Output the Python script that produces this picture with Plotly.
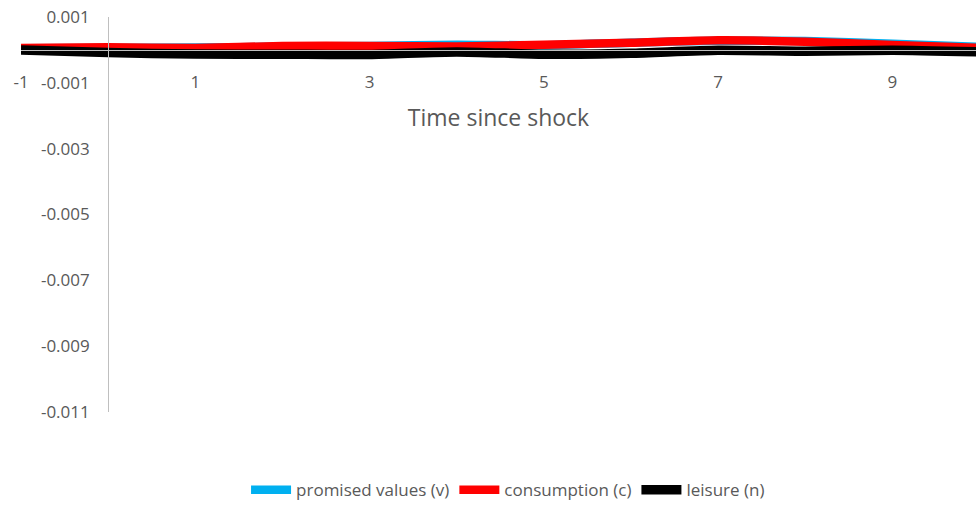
import plotly.graph_objects as go

time = [-1, 0, 1, 2, 3, 4, 5, 6, 7, 8, 9, 10]
promised_values = [0.00005, 0.00006, 0.00007, 0.00010, 0.00012, 0.00016, 0.00014, 0.00022, 0.00028, 0.00027, 0.00019, 0.00009]
consumption = [0.00006, 0.00008, 0.00006, 0.00012, 0.00012, 0.00010, 0.00016, 0.00022, 0.00029, 0.00025, 0.00015, 0.00006]
leisure = [0.0, -0.00008, -0.000125, -0.00013, -0.00014, -0.00006, -0.00013, -0.0001, -0.00001, -0.00004, -0.00001, -0.00006]

series_names = ["promised values (v)", "consumption (c)", "leisure (n)"]
series_colors = ["#00B0F0", "#FF0000", "#000000"]
series_widths = [8.5, 8.5, 9.5]

x_tickvals = [-1, 1, 3, 5, 7, 9]
x_ticktext = ["-1", "1", "3", "5", "7", "9"]
y_tickvals = [0.001, -0.001, -0.003, -0.005, -0.007, -0.009, -0.011]
y_ticktext = ["0.001", "-0.001", "-0.003", "-0.005", "-0.007", "-0.009", "-0.011"]

FONT = "Open Sans"
GREY = "#595959"

fig = go.Figure()
for name, ys, col, w in zip(series_names, [promised_values, consumption, leisure], series_colors, series_widths):
    fig.add_trace(go.Scatter(x=time, y=ys, mode="lines", name=name,
                             line=dict(color=col, width=w, shape="spline", smoothing=0.6)))

xmin, xmax = -1, 9.96
ymin, ymax = -0.011, 0.001

fig.update_layout(
    width=976, height=510,
    margin=dict(l=20.5, r=0, t=17, b=98),
    paper_bgcolor="white", plot_bgcolor="white",
    font=dict(family=FONT, color=GREY, size=17),
    showlegend=True,
    legend=dict(orientation="h", x=0.51, xanchor="center", y=-0.198, yanchor="middle",
                font=dict(size=17, color=GREY), itemwidth=40, tracegroupgap=0),
    xaxis=dict(range=[xmin, xmax], domain=[0, 1], anchor="free", automargin=False,
               position=(0 - ymin) / (ymax - ymin),
               tickvals=x_tickvals, ticktext=x_ticktext, ticklabeloverflow="allow",
               showgrid=False, zeroline=False, showline=True, linecolor="#BFBFBF", linewidth=1,
               ticks="", ticklabelstandoff=17, tickfont=dict(size=17, color=GREY),
               title=dict(text="Time since shock", font=dict(size=23, color=GREY), standoff=17)),
    yaxis=dict(range=[ymin, ymax], anchor="free", automargin=False,
               position=(0 - xmin) / (xmax - xmin),
               tickvals=y_tickvals, ticktext=y_ticktext, ticklabeloverflow="allow",
               showgrid=False, zeroline=False, showline=True, linecolor="#BFBFBF", linewidth=1,
               ticks="", ticklabelstandoff=15, tickfont=dict(size=17, color=GREY)),
)

fig.write_html("out.html", config={"displayModeBar": False},
               post_script="document.body.style.margin='0';")
